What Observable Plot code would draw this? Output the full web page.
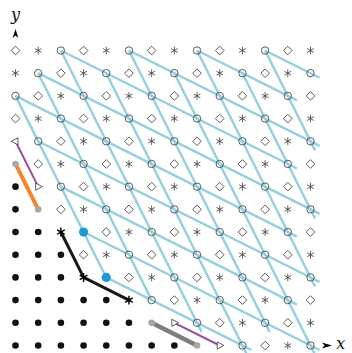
<!DOCTYPE html>
<html>
<head>
<meta charset="utf-8">
<script src="https://cdn.jsdelivr.net/npm/d3@7"></script>
<script src="https://cdn.jsdelivr.net/npm/@observablehq/plot@0.6"></script>
<style>
  html, body { margin: 0; padding: 0; background: #fff; }
  #chart svg { display: block; }
</style>
</head>
<body>
<div id="chart"></div>
<script>
// Lattice rows, from y = 13 (top) down to y = 0; one character per column x = 0..13.
// o open circle, d diamond, * asterisk, . black dot, g grey endpoint,
// < > open triangles, b filled blue circle, k black asterisk on the path
const latticeRows = [
  "d*od*od*od*od*", // 13
  "*od*od*od*od*o", // 12
  "od*od*od*od*od", // 11
  "d*od*od*od*od*", // 10
  "<od*od*od*od*o", // 9
  "gd*od*od*od*od", // 8
  ".>od*od*od*od*", // 7
  ".gd*od*od*od*o", // 6
  "..kbd*od*od*od", // 5
  "...d*od*od*od*", // 4
  "...kbd*od*od*o", // 3
  ".....kod*od*od", // 2
  "......g>od*od*", // 1
  "........g>od*o"  // 0
];

// Light blue lines through the circles: [x1, y1, x2, y2]
// steep direction (+1, -2)
const steepLines = [
  [0, 11, 4, 3],
  [1, 12, 6, 2],
  [2, 13, 8.2, 0.6],
  [4, 12, 10.2, -0.4],
  [5, 13, 11.2, 0.6],
  [7, 12, 13.2, -0.4],
  [8, 13, 13.2, 2.6],
  [10, 12, 13.2, 5.6],
  [11, 13, 13.2, 8.6]
];
// shallow direction (+2, -1)
const shallowLines = [
  [4, 3, 10.4, -0.2],
  [3, 5, 13.4, -0.2],
  [2, 7, 12.4, 1.8],
  [1, 9, 13.4, 2.8],
  [0, 11, 12.4, 4.8],
  [1, 12, 13.4, 5.8],
  [2, 13, 12.4, 7.8],
  [5, 13, 13.4, 8.8],
  [8, 13, 12.4, 10.8],
  [11, 13, 13.4, 11.8]
];

// Highlighted segments
const blackPath = [[2, 5], [3, 3], [5, 2]];
const orangeSegment = [[0, 8, 1, 6]];
const greySegment = [[6, 1, 8, 0]];
const purpleSegments = [[0, 9, 1, 7], [7, 1, 9, 0]];

// Axis arrows and their labels
const axisArrowX = [[13.72, 0]];
const axisArrowY = [[0, 13.75]];
const axisLabels = [
  {x: 14.33, y: 0.08, text: "x"},
  {x: 0, y: 14.55, text: "y"}
];

// Custom glyphs
const triRight = {
  draw(ctx, size) {
    const r = Math.sqrt(size / Math.PI) * 1.1;
    ctx.moveTo(r, 0);
    ctx.lineTo(-r * 0.6, -r * 0.85);
    ctx.lineTo(-r * 0.6, r * 0.85);
    ctx.closePath();
  }
};
const triLeft = {
  draw(ctx, size) {
    const r = Math.sqrt(size / Math.PI) * 1.1;
    ctx.moveTo(-r, 0);
    ctx.lineTo(r * 0.6, -r * 0.85);
    ctx.lineTo(r * 0.6, r * 0.85);
    ctx.closePath();
  }
};
const arrowRight = {
  draw(ctx, size) {
    const r = Math.sqrt(size / Math.PI);
    ctx.moveTo(r, 0);
    ctx.lineTo(-r, -0.62 * r);
    ctx.lineTo(-0.45 * r, 0);
    ctx.lineTo(-r, 0.62 * r);
    ctx.closePath();
  }
};
const arrowUp = {
  draw(ctx, size) {
    const r = Math.sqrt(size / Math.PI);
    ctx.moveTo(0, -r);
    ctx.lineTo(-0.62 * r, r);
    ctx.lineTo(0, 0.45 * r);
    ctx.lineTo(0.62 * r, r);
    ctx.closePath();
  }
};

const points = latticeRows.flatMap((row, k) =>
  Array.from(row, (c, x) => ({x, y: latticeRows.length - 1 - k, c}))
);
const only = (c) => points.filter((p) => p.c === c);

const seg = {x1: (d) => d[0], y1: (d) => d[1], x2: (d) => d[2], y2: (d) => d[3]};
const blue = "#95cfde";
const ink = "#4a4a4a";

const chart = Plot.plot({
  width: 352,
  height: 353,
  marginLeft: 15,
  marginRight: 42,
  marginTop: 50,
  marginBottom: 8,
  x: {domain: [0, 13], axis: null},
  y: {domain: [0, 13], axis: null},
  style: {background: "white", overflow: "visible"},
  marks: [
    Plot.link(steepLines, {...seg, stroke: blue, strokeWidth: 2.4}),
    Plot.link(shallowLines, {...seg, stroke: blue, strokeWidth: 2.4}),

    Plot.dot(only("o"), {x: "x", y: "y", r: 3.7, stroke: ink, strokeWidth: 0.9, fill: "none"}),
    Plot.dot(only("d"), {x: "x", y: "y", symbol: "diamond2", r: 3.9, stroke: ink, strokeWidth: 0.9, fill: "none"}),
    Plot.dot(only("*"), {x: "x", y: "y", symbol: "asterisk", r: 3.6, stroke: ink, strokeWidth: 0.9, fill: "none"}),
    Plot.dot(only("."), {x: "x", y: "y", r: 3.3, fill: "#111", stroke: "none"}),

    Plot.link(orangeSegment, {...seg, stroke: "#f5842a", strokeWidth: 4, strokeLinecap: "round"}),
    Plot.link(greySegment, {...seg, stroke: "#7d7d7d", strokeWidth: 4.5, strokeLinecap: "round"}),
    Plot.dot(only("g"), {x: "x", y: "y", r: 3.3, fill: "#a8a8a8", stroke: "none"}),

    Plot.link(purpleSegments, {...seg, stroke: "#9a4c9d", strokeWidth: 2}),
    Plot.dot(only(">"), {x: "x", y: "y", symbol: triRight, r: 3.8, fill: "white", stroke: ink, strokeWidth: 0.9}),
    Plot.dot(only("<"), {x: "x", y: "y", symbol: triLeft, r: 3.8, fill: "white", stroke: ink, strokeWidth: 0.9}),

    Plot.line(blackPath, {x: (d) => d[0], y: (d) => d[1], stroke: "#181818", strokeWidth: 3}),
    Plot.dot(only("k"), {x: "x", y: "y", symbol: "asterisk", r: 4.2, stroke: "#000", strokeWidth: 1.4, fill: "none"}),
    Plot.dot(only("b"), {x: "x", y: "y", r: 4.6, fill: "#1c9ad6", stroke: "none"}),

    Plot.dot(axisArrowX, {x: (d) => d[0], y: (d) => d[1], symbol: arrowRight, r: 5, fill: "#000", stroke: "none"}),
    Plot.dot(axisArrowY, {x: (d) => d[0], y: (d) => d[1], symbol: arrowUp, r: 4.6, fill: "#000", stroke: "none"}),
    Plot.text(axisLabels, {
      x: "x", y: "y", text: "text",
      fontFamily: "DejaVu Serif", fontStyle: "italic", fontSize: 16,
      fill: "#111", textAnchor: "middle", lineAnchor: "middle"
    })
  ]
});

document.getElementById("chart").append(chart);
</script>
</body>
</html>
